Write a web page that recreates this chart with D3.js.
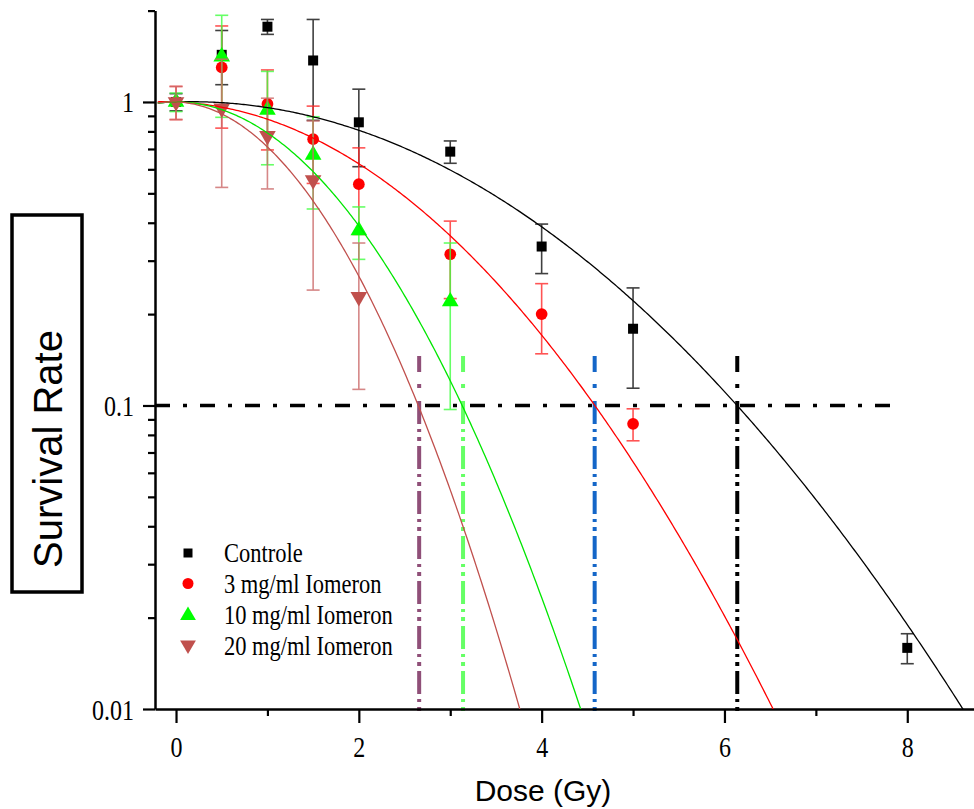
<!DOCTYPE html>
<html>
<head>
<meta charset="utf-8">
<script src="https://cdn.jsdelivr.net/npm/d3@7"></script>
<style>
  body { margin: 0; background: #fff; }
  svg { display: block; }
</style>
</head>
<body>
<svg id="chart" width="974" height="809"></svg>
<script>
// ---- Clonogenic survival data (mean ± SD) ----
const seriesNames = ["Controle", "3 mg/ml Iomeron", "10 mg/ml Iomeron", "20 mg/ml Iomeron"];

const doseControle = [0, 0.5, 1, 1.5, 2, 3, 4, 5, 8];
const survControle = [1.0, 1.43, 1.77, 1.37, 0.857, 0.686, 0.334, 0.179, 0.0159];
const errControle  = [0.065, 0.29, 0.10, 0.50, 0.245, 0.058, 0.062, 0.065, 0.0018];

const dose3  = [0, 0.5, 1, 1.5, 2, 3, 4, 5];
const surv3  = [1.0, 1.30, 0.985, 0.754, 0.536, 0.315, 0.200, 0.087];
const err3   = [0.125, 0.48, 0.29, 0.215, 0.17, 0.09, 0.052, 0.0105];

const dose10 = [0, 0.5, 1, 1.5, 2, 3];
const surv10 = [1.0, 1.41, 0.941, 0.669, 0.377, 0.220];
const err10  = [0.07, 0.52, 0.32, 0.225, 0.074, 0.123];

const dose20 = [0, 0.5, 1, 1.5, 2];
const surv20 = [1.0, 0.953, 0.773, 0.553, 0.228];
const err20  = [0.125, 0.43, 0.256, 0.313, 0.115];

// Linear-quadratic fit parameters: S(D) = exp(-alpha*D - beta*D^2)
const fitAlpha = [-0.022, 0.027, 0.0, 0.021];
const fitBeta  = [0.0647, 0.1038, 0.235, 0.320];

// Dose giving 10% survival for each group (reference markers)
const d10Doses  = [2.66, 3.14, 4.58, 6.14];
const d10Colors = ["#8f4f78", "#66ff66", "#1466c8", "#000000"];
const refSurvival = 0.1;

// Axis ticks
const xMajorTicks = [0, 2, 4, 6, 8];
const xMinorTicks = [1, 3, 5, 7];
const yMajorTicks = [0.01, 0.1, 1];
const yTickLabels = ["0.01", "0.1", "1"];
const yMinorTicks = [0.02, 0.03, 0.04, 0.05, 0.06, 0.07, 0.08, 0.09,
                     0.2, 0.3, 0.4, 0.5, 0.6, 0.7, 0.8, 0.9, 2];

// ---- Styling per series ----
const markerColors = ["#000000", "#ff0000", "#00ff00", "#c0504d"];
const errColors    = ["#111111", "#ff2a2a", "#40ff40", "#cc6a6a"];
const curveColors  = ["#000000", "#ff0000", "#00e600", "#c0504d"];
const markerShapes = ["square", "circle", "up", "down"];

const series = [
  { dose: doseControle, surv: survControle, err: errControle },
  { dose: dose3,  surv: surv3,  err: err3 },
  { dose: dose10, surv: surv10, err: err10 },
  { dose: dose20, surv: surv20, err: err20 }
].map((s, i) => ({
  name: seriesNames[i],
  points: s.dose.map((d, j) => ({ d, v: s.surv[j], e: s.err[j] })),
  alpha: fitAlpha[i], beta: fitBeta[i],
  color: markerColors[i], errColor: errColors[i], curveColor: curveColors[i],
  shape: markerShapes[i]
}));

// ---- Scales ----
const svg = d3.select("#chart");
const x = d3.scaleLinear().domain([-0.23, 8.73]).range([155, 974]);
const y = d3.scaleLog().domain([0.01, 2]).range([709, 10.6]);

const serif = "'Liberation Serif', 'Times New Roman', serif";
const sans  = "'Liberation Sans', Arial, sans-serif";

function symbolPath(shape, big) {
  if (shape === "square") return d3.symbol().type(d3.symbolSquare).size(big ? 100 : 81)();
  if (shape === "circle") return d3.symbol().type(d3.symbolCircle).size(big ? 108 : 95)();
  return d3.symbol().type(d3.symbolTriangle).size(big ? 120 : 108)();
}
function symbolTransform(shape, px, py) {
  return shape === "down" ? `translate(${px},${py}) rotate(180)` : `translate(${px},${py})`;
}

svg.append("defs").append("clipPath").attr("id", "plotClip")
  .append("rect").attr("x", 155).attr("y", 0).attr("width", 819).attr("height", 709);

// ---- Reference lines (10% survival) ----
const ref = svg.append("g");
ref.append("line")
  .attr("x1", 155).attr("x2", 892)
  .attr("y1", y(refSurvival)).attr("y2", y(refSurvival))
  .attr("stroke", "#000").attr("stroke-width", 3.5)
  .attr("stroke-dasharray", "15,13,4,13");

ref.selectAll("line.d10").data(d10Doses).join("line")
  .attr("class", "d10")
  .attr("x1", d => x(d)).attr("x2", d => x(d))
  .attr("y1", 356).attr("y2", 712)
  .attr("stroke", (d, i) => d10Colors[i]).attr("stroke-width", 4)
  .attr("stroke-dasharray", "16,12,4,13,23,5,3,5,4,5,23,5,3,5,4,5,23,5,3,5,4,5,23,5,3,5,4,5,23,5,3,5,4,5,23,5,3,5,4,5,23,5,3,5,4,5,23,5,3,5,4,5");

// ---- Axes ----
const xAxis = svg.append("g").attr("transform", "translate(0,709)");
xAxis.call(d3.axisBottom(x).tickValues(xMajorTicks).tickSize(14).tickSizeOuter(0)
  .tickFormat(d3.format("d")));
const xMinor = svg.append("g").attr("transform", "translate(0,709)");
xMinor.call(d3.axisBottom(x).tickValues(xMinorTicks).tickSize(7).tickSizeOuter(0).tickFormat(""));
xMinor.select(".domain").remove();

const yAxis = svg.append("g").attr("transform", "translate(155,0)");
yAxis.call(d3.axisLeft(y).tickValues(yMajorTicks).tickSize(12).tickSizeOuter(0)
  .tickFormat((d, i) => yTickLabels[i]));
const yMinor = svg.append("g").attr("transform", "translate(155,0)");
yMinor.call(d3.axisLeft(y).tickValues(yMinorTicks).tickSize(7).tickSizeOuter(0).tickFormat(""));
yMinor.select(".domain").remove();

svg.selectAll(".domain").attr("stroke", "#000").attr("stroke-width", 2.5);
svg.selectAll(".tick line").attr("stroke", "#000").attr("stroke-width", 2.2);

// tick groups already sit on the axis line, so labels are offset from it
xAxis.selectAll(".tick text")
  .attr("y", null).attr("dy", null)
  .attr("transform", "translate(0,48) scale(1,1.25)")
  .style("font-family", serif).style("font-size", "24px").attr("fill", "#000");
yAxis.selectAll(".tick text")
  .attr("x", null).attr("dy", null)
  .attr("text-anchor", "end")
  .attr("transform", "translate(-21,10) scale(1,1.25)")
  .style("font-family", serif).style("font-size", "24px").attr("fill", "#000");

// ---- Axis titles ----
svg.append("text")
  .attr("x", 543).attr("y", 801)
  .attr("text-anchor", "middle")
  .style("font-family", sans).style("font-size", "30px")
  .text("Dose (Gy)");

svg.append("rect")
  .attr("x", 12).attr("y", 215).attr("width", 70).attr("height", 377)
  .attr("fill", "none").attr("stroke", "#000").attr("stroke-width", 3.5);
svg.append("text")
  .attr("transform", "translate(62,449) rotate(-90)")
  .attr("text-anchor", "middle")
  .style("font-family", sans).style("font-size", "40px")
  .text("Survival Rate");

// ---- Data: error bars and markers ----
const dataLayer = svg.append("g");
const capHalf = 6.5;
series.forEach(s => {
  const g = dataLayer.append("g");
  const eb = g.selectAll("g.eb").data(s.points).join("g").attr("class", "eb")
    .attr("stroke", s.errColor).attr("stroke-width", 1.6).attr("opacity", 0.8);
  eb.append("line")
    .attr("x1", p => x(p.d)).attr("x2", p => x(p.d))
    .attr("y1", p => y(p.v + p.e)).attr("y2", p => y(Math.max(p.v - p.e, 0.0101)));
  eb.append("line")
    .attr("x1", p => x(p.d) - capHalf).attr("x2", p => x(p.d) + capHalf)
    .attr("y1", p => y(p.v + p.e)).attr("y2", p => y(p.v + p.e));
  eb.append("line")
    .attr("x1", p => x(p.d) - capHalf).attr("x2", p => x(p.d) + capHalf)
    .attr("y1", p => y(p.v - p.e)).attr("y2", p => y(p.v - p.e));
  g.selectAll("path.mk").data(s.points).join("path").attr("class", "mk")
    .attr("d", symbolPath(s.shape, true))
    .attr("transform", p => symbolTransform(s.shape, x(p.d), y(p.v)))
    .attr("fill", s.color);
});

// ---- Fitted LQ curves ----
const curveLayer = svg.append("g").attr("clip-path", "url(#plotClip)");
const doseGrid = d3.range(-0.2, 8.75, 0.02);
const line = d3.line().x(p => x(p.d)).y(p => y(p.v));
series.forEach(s => {
  const pts = doseGrid.map(d => ({ d, v: Math.exp(-s.alpha * d - s.beta * d * d) }))
    .filter(p => p.v >= 0.006);
  curveLayer.append("path")
    .attr("d", line(pts))
    .attr("fill", "none")
    .attr("stroke", s.curveColor)
    .attr("stroke-width", 1.3);
});

// ---- Legend ----
const legend = svg.append("g");
const legendRows = [553, 583.5, 614.5, 646];
series.forEach((s, i) => {
  const row = legend.append("g");
  row.append("path")
    .attr("d", symbolPath(s.shape, false))
    .attr("transform", symbolTransform(s.shape, 188, legendRows[i] + (s.shape === "up" ? 1 : s.shape === "down" ? -1 : 0)))
    .attr("fill", s.color);
  row.append("text")
    .attr("transform", `translate(224,${legendRows[i] + 9}) scale(1,1.2)`)
    .style("font-family", serif).style("font-size", "22.5px")
    .attr("fill", "#000")
    .text(s.name);
});
</script>
</body>
</html>
